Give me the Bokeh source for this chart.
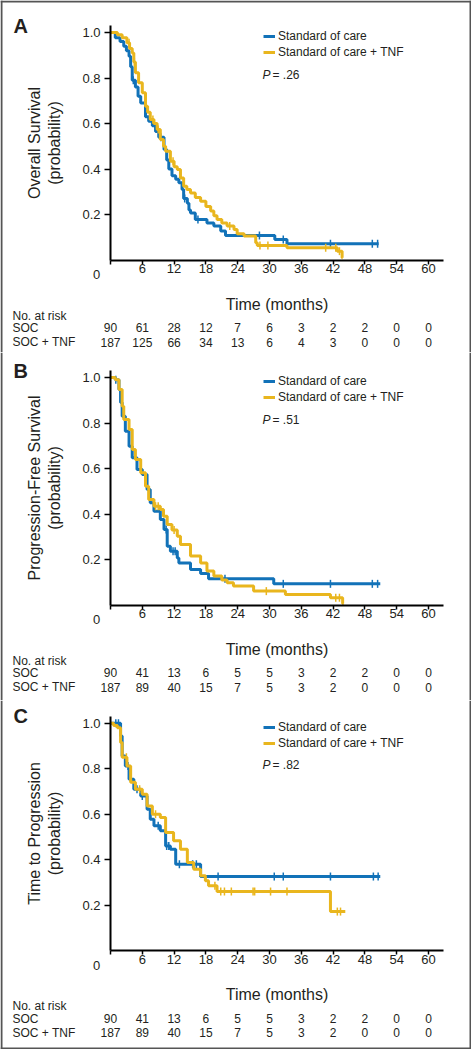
import numpy as np
from bokeh.plotting import figure
from bokeh.models import (FixedTicker, Legend, LegendItem, Range1d, NumeralTickFormatter, Span)
from bokeh.layouts import column
from bokeh.embed import file_html
from bokeh.resources import INLINE
from bokeh.core.properties import value

# ---------------- data ----------------
TICKS = [0, 6, 12, 18, 24, 30, 36, 42, 48, 54, 60]
Y_TICKS = [0.2, 0.4, 0.6, 0.8, 1.0]
LEGEND_LABELS = ["Standard of care", "Standard of care + TNF"]
RISK_ROW_LABELS = ["No. at risk", "SOC", "SOC + TNF"]

# Panel A - Overall survival
OS_SOC_T = [0, 0.9, 1.8, 2.5, 3.0, 3.5, 3.8, 4.1, 4.7, 5.2, 5.7, 6.6, 7.2, 7.9, 8.5, 9.1, 10.1,
            10.6, 11.0, 11.6, 12.3, 12.9, 13.5, 13.8, 14.5, 14.8, 15.1, 16.0, 18.2, 19.5, 20.8,
            21.7, 31.0, 33.3]
OS_SOC_S = [1.0, 0.977, 0.96, 0.94, 0.92, 0.896, 0.85, 0.79, 0.76, 0.72, 0.69, 0.63, 0.61, 0.59,
            0.565, 0.54, 0.486, 0.44, 0.40, 0.37, 0.355, 0.34, 0.31, 0.27, 0.25, 0.22, 0.207,
            0.178, 0.163, 0.149, 0.127, 0.108, 0.09, 0.071]
OS_SOC_END = 50.6
OS_SOC_CENS = [4.3, 9.5, 14.0, 16.5, 28.1, 32.6, 41.5, 49.4, 50.4]
OS_TNF_T = [0, 1.3, 2.2, 3.1, 3.6, 4.1, 4.4, 4.7, 5.3, 6.0, 6.6, 7.0, 7.5, 8.2, 8.8, 9.4, 10.0,
            10.4, 11.3, 12.0, 12.6, 13.2, 13.8, 14.4, 15.1, 16.0, 17.0, 18.0, 18.9, 19.5, 20.1,
            21.0, 22.0, 23.3, 23.9, 25.2, 27.4, 27.7, 33.3, 42.8, 43.7]
OS_TNF_S = [1.0, 0.99, 0.977, 0.955, 0.93, 0.91, 0.87, 0.823, 0.779, 0.735, 0.676, 0.65, 0.618,
            0.6, 0.574, 0.53, 0.5, 0.478, 0.434, 0.41, 0.398, 0.36, 0.324, 0.31, 0.295, 0.275,
            0.258, 0.235, 0.215, 0.195, 0.178, 0.163, 0.149, 0.134, 0.115, 0.105, 0.076, 0.064,
            0.054, 0.039, 0.01]
OS_TNF_END = 43.8
OS_TNF_CENS = [3.5, 4.5, 8.0, 9.0, 11.8, 22.5, 28.2, 29.7, 40.6, 42.5, 43.2]
OS_RISK_SOC = [90, 61, 28, 12, 7, 6, 3, 2, 2, 0, 0]
OS_RISK_TNF = [187, 125, 66, 34, 13, 6, 4, 3, 0, 0, 0]
OS_P = ".26"

# Panel B - Progression-free survival
PFS_SOC_T = [0, 0.9, 1.6, 1.9, 2.2, 2.8, 3.5, 4.1, 5.0, 6.0, 6.9, 7.5, 8.2, 9.4, 10.1, 10.7,
             11.3, 12.6, 12.9, 15.1, 17.0, 18.5, 30.8]
PFS_SOC_S = [1.0, 0.99, 0.947, 0.89, 0.83, 0.764, 0.698, 0.647, 0.596, 0.574, 0.508, 0.449,
             0.412, 0.376, 0.332, 0.258, 0.236, 0.207, 0.185, 0.156, 0.138, 0.115, 0.093]
PFS_SOC_END = 50.9
PFS_SOC_CENS = [1.0, 10.5, 11.8, 12.2, 21.6, 32.6, 41.5, 49.4, 50.4]
PFS_TNF_T = [0, 0.9, 1.6, 2.2, 2.5, 3.5, 4.1, 4.7, 5.7, 6.6, 7.2, 8.2, 9.4, 10.0, 10.7, 11.6,
             12.6, 13.2, 15.1, 17.0, 18.2, 19.5, 21.0, 22.0, 23.2, 27.0, 33.0, 41.5, 43.8]
PFS_TNF_S = [1.0, 0.99, 0.947, 0.874, 0.815, 0.771, 0.684, 0.64, 0.581, 0.522, 0.464, 0.434,
             0.42, 0.39, 0.354, 0.33, 0.302, 0.266, 0.215, 0.185, 0.149, 0.127, 0.11, 0.098,
             0.083, 0.061, 0.046, 0.032, 0.007]
PFS_TNF_END = 44.0
PFS_TNF_CENS = [8.5, 9.0, 12.0, 29.4, 42.5, 43.2]
PFS_RISK_SOC = [90, 41, 13, 6, 5, 5, 3, 2, 2, 0, 0]
PFS_RISK_TNF = [187, 89, 40, 15, 7, 5, 3, 2, 0, 0, 0]
PFS_P = ".51"

# Panel C - Time to progression
TTP_SOC_T = [0, 1.9, 2.2, 2.8, 3.5, 4.4, 5.7, 6.9, 7.5, 8.2, 9.4, 10.4, 11.3, 12.3, 17.0]
TTP_SOC_S = [1.0, 0.944, 0.856, 0.812, 0.754, 0.71, 0.68, 0.622, 0.578, 0.549, 0.527, 0.46,
             0.446, 0.38, 0.326]
TTP_SOC_END = 50.9
TTP_SOC_CENS = [1.0, 1.5, 3.3, 5.0, 6.0, 9.0, 10.6, 11.0, 13.0, 15.5, 16.2, 20.3, 30.9, 32.6,
                41.5, 49.6, 50.5]
TTP_TNF_T = [0, 0.6, 1.3, 1.9, 2.2, 3.1, 3.8, 4.7, 6.0, 6.9, 7.9, 9.4, 10.4, 11.9, 13.2, 14.5,
             15.7, 17.0, 17.9, 18.5, 20.1, 41.5]
TTP_TNF_S = [1.0, 0.99, 0.98, 0.915, 0.85, 0.812, 0.74, 0.71, 0.688, 0.636, 0.6, 0.585, 0.52,
             0.483, 0.446, 0.388, 0.358, 0.329, 0.307, 0.285, 0.26, 0.172]
TTP_TNF_END = 44.3
TTP_TNF_CENS = [3.0, 5.5, 8.5, 19.7, 20.8, 21.5, 22.8, 26.9, 27.2, 30.2, 33.3, 42.8, 43.4]
TTP_RISK_SOC = [90, 41, 13, 6, 5, 5, 3, 2, 2, 0, 0]
TTP_RISK_TNF = [187, 89, 40, 15, 7, 5, 3, 2, 0, 0, 0]
TTP_P = ".82"

# ---------------- styling / layout (pixels measured within panel A) ----------------
BLUE = "#1272b8"
GOLD = "#e9b61e"
TXT = "#231f20"
EDGE = "#555555"
FONT = "Liberation Sans"
W = 471
X0_PX = 110.0        # pixel column of month 0 (y axis)
Y0_PX = 259.5        # pixel row of probability 0 (x axis)
PX_PER_MONTH = 5.3
PX_PER_UNIT = 227.5
AXIS_RIGHT_PX = 443
AXIS_TOP_PX = 25


def dx(px):
    return (px - X0_PX) / PX_PER_MONTH


def dy(py):
    return (Y0_PX - py) / PX_PER_UNIT


def surv_at(ts, ss, t):
    idx = np.searchsorted(np.asarray(ts), np.asarray(t), side="right") - 1
    return list(np.asarray(ss)[idx])


def txt(p, x, y, s, size="12px", align="left", style="normal", x_offset=0):
    p.text(x=x, y=y, text=s, text_font=value(FONT), text_font_size=size,
           text_font_style=style, text_color=TXT, text_align=align,
           text_baseline="middle", x_offset=x_offset)


def panel(letter, ylabel, soc, tnf, pval, risk_soc, risk_tnf, height, off, top=False,
          bottom=False):
    # off: panel-A pixel row that sits at the top edge of this figure
    p = figure(width=W, height=height,
               x_range=Range1d(dx(0), dx(W)), y_range=Range1d(dy(height + off), dy(off)),
               output_backend="svg", toolbar_location=None,
               min_border_left=0, min_border_right=0, min_border_top=0, min_border_bottom=0)
    p.grid.visible = False
    p.outline_line_color = None
    p.background_fill_color = "white"
    p.border_fill_color = "white"

    rends = []
    for (ts, ss, end, cens), col in ((soc, BLUE), (tnf, GOLD)):
        r = p.step(x=list(ts) + [end], y=list(ss) + [ss[-1]], mode="after",
                   line_width=3, line_color=col)
        p.scatter(x=cens, y=surv_at(ts, ss, cens), marker="dash", angle=np.pi / 2,
                  size=8, line_width=1.5, line_color=col)
        rends.append(r)

    legend = Legend(items=[LegendItem(label=LEGEND_LABELS[0], renderers=[rends[0]]),
                           LegendItem(label=LEGEND_LABELS[1], renderers=[rends[1]])],
                    location=(263, height - 59 + off))
    legend.border_line_color = None
    legend.background_fill_alpha = 0
    legend.padding = 0
    legend.margin = 0
    legend.spacing = 2
    legend.glyph_width = 12
    legend.glyph_height = 14
    legend.label_height = 14
    legend.label_standoff = 3
    legend.label_text_font = FONT
    legend.label_text_font_size = "12px"
    legend.label_text_color = TXT
    p.add_layout(legend)

    # P value
    txt(p, [dx(262)], [dy(74)], ["P"], style="italic")
    txt(p, [dx(262)], [dy(74)], ["= " + pval], x_offset=10)

    # axes, pinned at the origin and limited to the plotted area
    xa = p.xaxis[0]
    xa.fixed_location = 0
    xa.bounds = (0, dx(AXIS_RIGHT_PX))
    xa.ticker = FixedTicker(ticks=TICKS)
    xa.major_label_overrides = {0: ""}
    xa.minor_tick_line_color = None
    xa.major_tick_in = 0
    xa.major_tick_out = 4
    xa.major_tick_line_width = 1.5
    xa.axis_line_width = 2
    xa.axis_line_color = "black"
    xa.major_label_standoff = 0
    xa.major_label_text_font = FONT
    xa.major_label_text_font_size = "13px"
    xa.major_label_text_color = TXT
    xa.axis_label = "Time (months)"
    xa.axis_label_text_font = FONT
    xa.axis_label_text_font_size = "16px"
    xa.axis_label_text_font_style = "normal"
    xa.axis_label_text_color = TXT
    xa.axis_label_standoff = 19

    ya = p.yaxis[0]
    ya.fixed_location = 0
    ya.bounds = (0, dy(AXIS_TOP_PX))
    ya.ticker = FixedTicker(ticks=Y_TICKS)
    ya.formatter = NumeralTickFormatter(format="0.0")
    ya.minor_tick_line_color = None
    ya.major_tick_in = 0
    ya.major_tick_out = 6
    ya.major_tick_line_width = 1.5
    ya.axis_line_width = 2
    ya.axis_line_color = "black"
    ya.major_label_standoff = 4
    ya.major_label_text_font = FONT
    ya.major_label_text_font_size = "13px"
    ya.major_label_text_color = TXT
    ya.axis_label = ylabel + "\n(probability)"
    ya.axis_label_text_font = FONT
    ya.axis_label_text_font_size = "16px"
    ya.axis_label_text_font_style = "normal"
    ya.axis_label_text_color = TXT
    ya.axis_label_standoff = 16

    # "0" tick label, set left of the y axis as in the original
    txt(p, [dx(96)], [dy(274.3)], ["0"], size="13px", align="center")

    # panel letter
    txt(p, [dx(13)], [dy(25)], [letter], size="20px", style="bold")

    # number at risk table
    rows_y = [dy(315), dy(327.3), dy(341.7)]
    txt(p, [dx(12)] * 3, rows_y, RISK_ROW_LABELS)
    for vals, yy in ((risk_soc, rows_y[1]), (risk_tnf, rows_y[2])):
        txt(p, TICKS, [yy] * len(TICKS), [str(v) for v in vals], align="center")

    # outer frame of the whole figure
    for loc in (dx(1), dx(W - 1)):
        p.add_layout(Span(location=loc, dimension="height", line_color=EDGE, line_width=2))
    if top:
        p.add_layout(Span(location=dy(1 + off), dimension="width", line_color=EDGE,
                          line_width=2))
    if bottom:
        p.add_layout(Span(location=dy(height - 1 + off), dimension="width", line_color=EDGE,
                          line_width=2))
    return p


pA = panel("A", "Overall Survival",
           (OS_SOC_T, OS_SOC_S, OS_SOC_END, OS_SOC_CENS),
           (OS_TNF_T, OS_TNF_S, OS_TNF_END, OS_TNF_CENS), OS_P, OS_RISK_SOC, OS_RISK_TNF,
           352, 0.0, top=True)
pB = panel("B", "Progression-Free Survival",
           (PFS_SOC_T, PFS_SOC_S, PFS_SOC_END, PFS_SOC_CENS),
           (PFS_TNF_T, PFS_TNF_S, PFS_TNF_END, PFS_TNF_CENS), PFS_P, PFS_RISK_SOC,
           PFS_RISK_TNF, 348, 7.0)
pC = panel("C", "Time to Progression",
           (TTP_SOC_T, TTP_SOC_S, TTP_SOC_END, TTP_SOC_CENS),
           (TTP_TNF_T, TTP_TNF_S, TTP_TNF_END, TTP_TNF_CENS), TTP_P, TTP_RISK_SOC,
           TTP_RISK_TNF, 349, 9.3, bottom=True)

layout = column(pA, pB, pC, spacing=0)

open("out.html", "w").write(file_html(layout, INLINE))
